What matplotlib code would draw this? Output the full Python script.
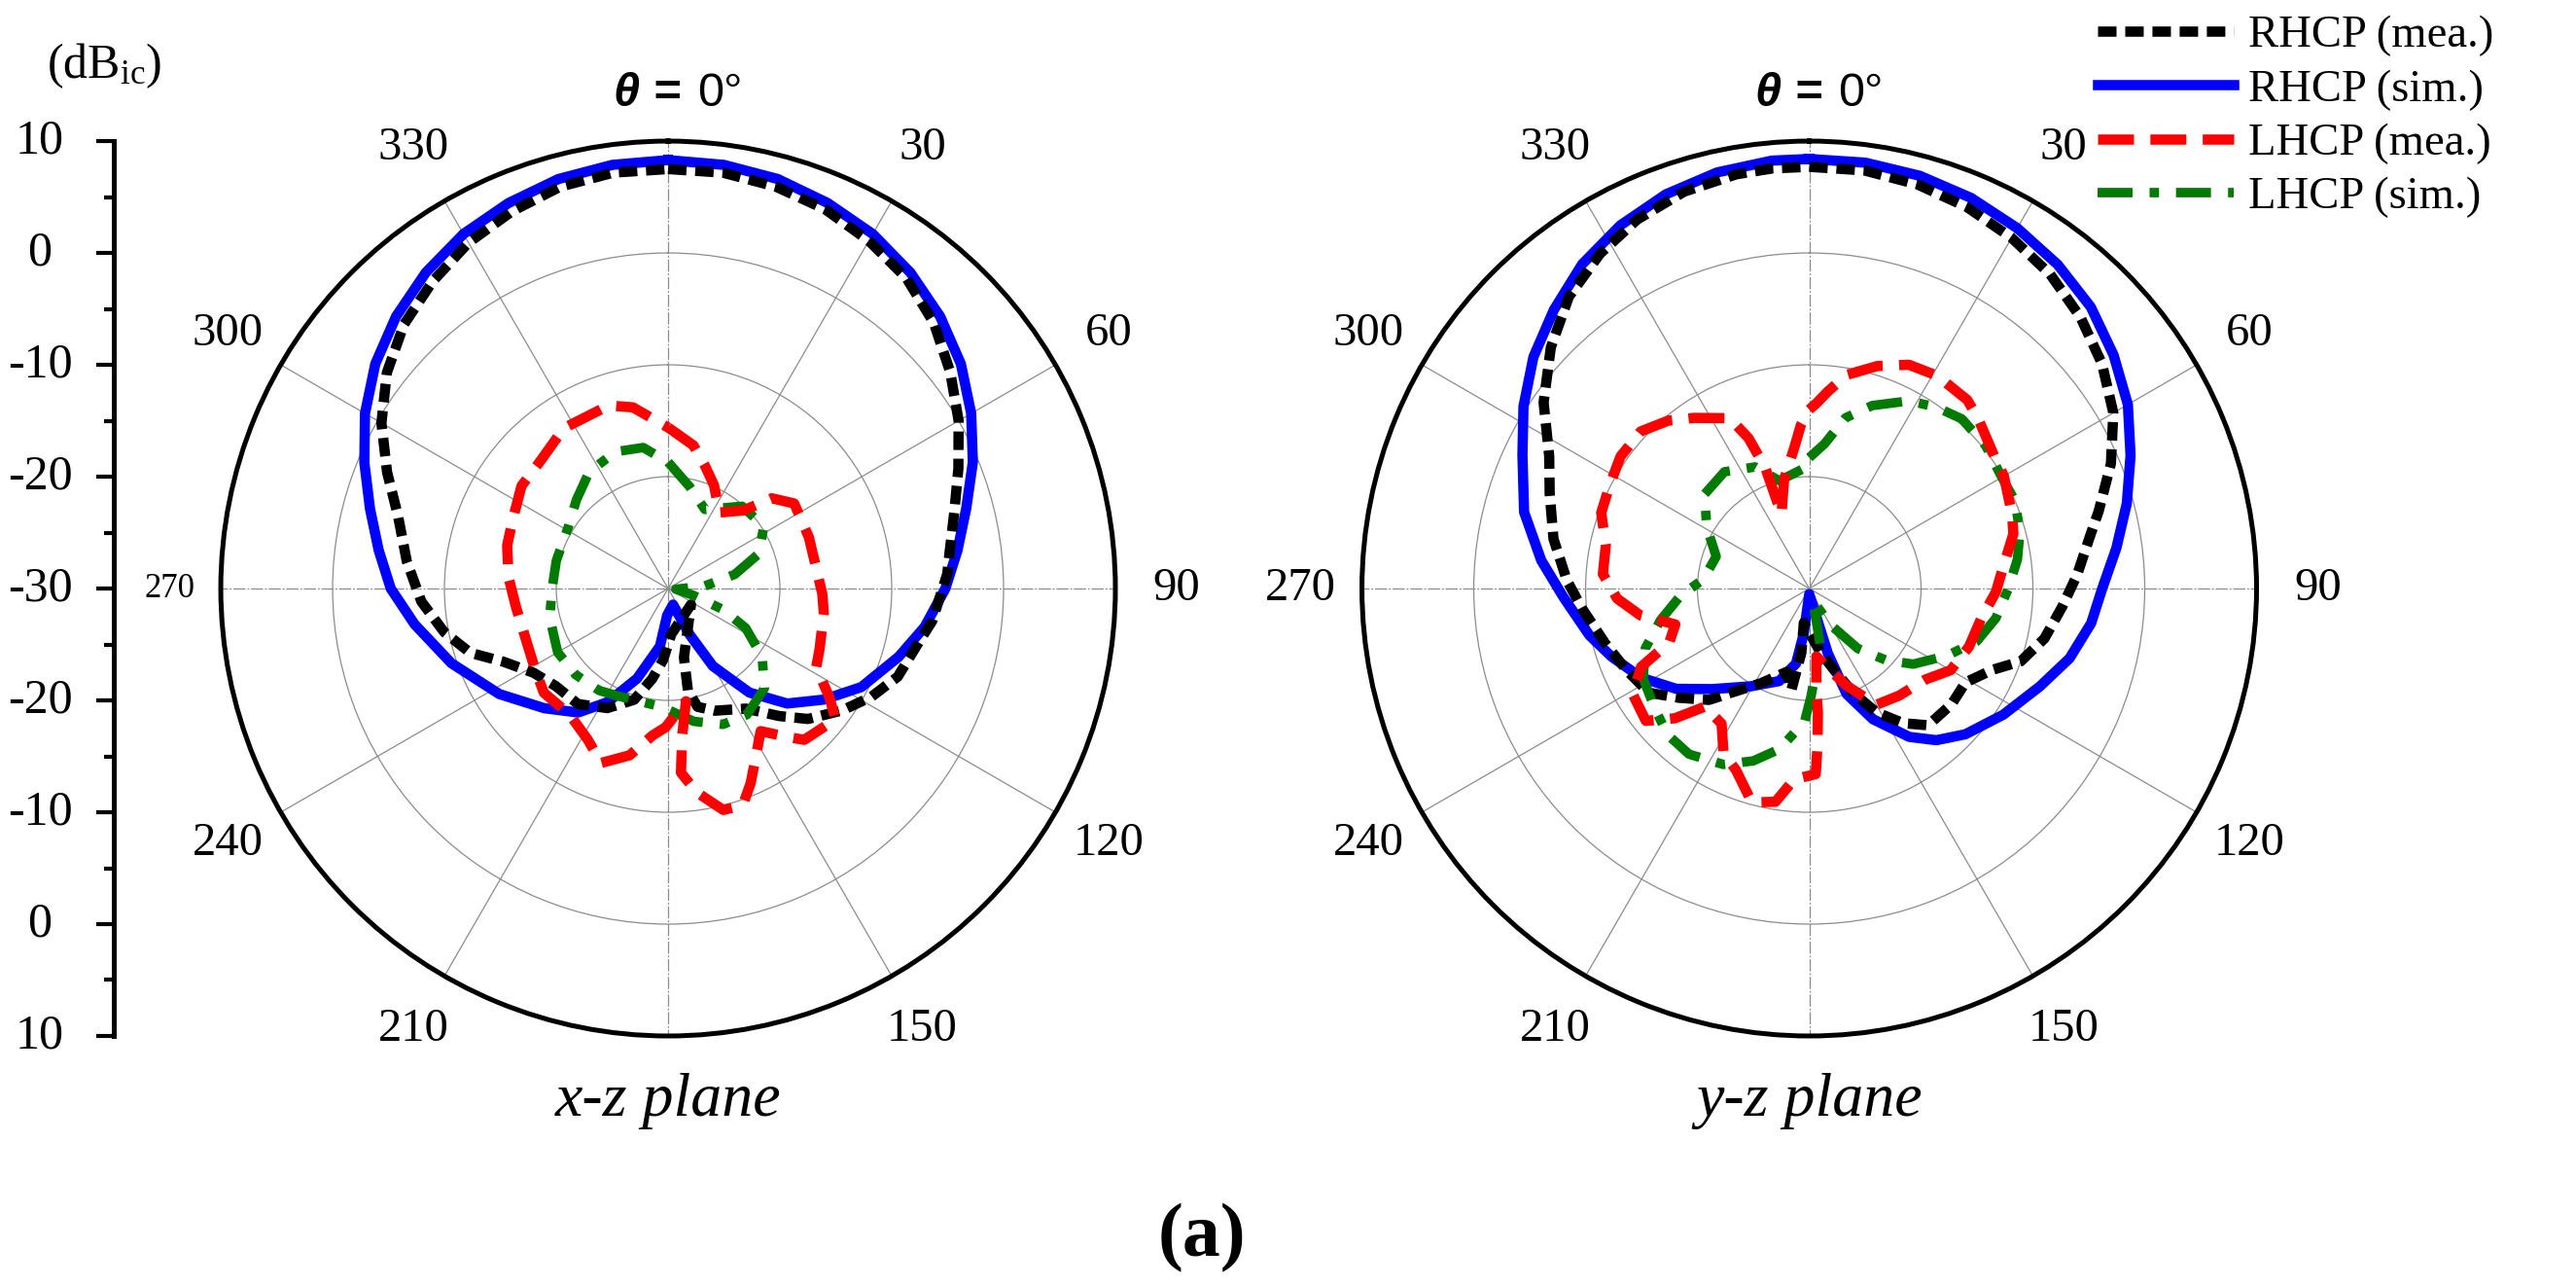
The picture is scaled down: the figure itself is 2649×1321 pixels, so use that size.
import numpy as np
import matplotlib
matplotlib.use("Agg")
import matplotlib.pyplot as plt
from matplotlib.lines import Line2D

plt.rcParams["font.family"] = ["Liberation Serif", "DejaVu Serif"]
plt.rcParams["mathtext.fontset"] = "custom"
plt.rcParams["mathtext.rm"] = "Liberation Serif"
plt.rcParams["mathtext.it"] = "Liberation Serif:italic"

# ---- data (angle in deg, gain in dBic) ----
XZ_RHCP_SIM_ANG = [0, 7.5, 15, 22.5, 30, 37.5, 45, 52.5, 60, 67.5, 75, 82.5, 90, 98.5, 106.5, 117,
                   125.5, 134, 142, 150, 155, 163, 182, 188, 199, 208, 216, 226, 238, 251, 262, 270,
                   277.5, 285, 292.5, 300, 307.5, 315, 322.5, 330, 337.5, 345, 352.5, 360]
XZ_RHCP_SIM = [8.3, 8.2, 7.9, 7.3, 6.6, 5.6, 4.4, 3.0, 1.3, -0.5, -2.4, -3.9, -5.2, -6.8, -8.5,
               -10.6, -12.9, -15.2, -18.2, -22.0, -25.5, -28.5, -27.6, -24.8, -21.5, -18.5, -16.3,
               -14.6, -12.2, -9.5, -7.1, -5.2, -3.9, -2.4, -0.6, 1.3, 3.0, 4.4, 5.6, 6.6, 7.3, 7.9,
               8.2, 8.3]

XZ_RHCP_MEA_ANG = [0, 7.5, 15, 22.5, 30, 37.5, 45, 52.5, 60, 67.5, 75, 82.5, 87, 97, 103, 111, 118,
                   125, 133, 139, 147, 159, 166, 169, 167, 125, 176, 184, 190, 197, 207, 218, 229,
                   238, 246, 252, 259, 267, 276, 285, 292.5, 300, 307.5, 315, 322.5, 330, 337.5,
                   345, 352.5, 360]
XZ_RHCP_MEA = [7.5, 7.5, 7.2, 6.7, 5.9, 5.0, 3.6, 1.8, 0.0, -1.9, -3.5, -4.6, -5.0, -6.2, -7.2,
               -8.0, -9.4, -11.0, -12.9, -14.9, -17.2, -18.3, -19.1, -20.7, -23.7, -27.5, -25.9,
               -23.6, -21.8, -19.6, -18.0, -16.9, -16.7, -15.8, -13.9, -11.4, -9.6, -7.9, -6.5,
               -5.0, -2.8, -0.4, 1.7, 3.4, 4.6, 5.7, 6.5, 7.2, 7.5, 7.5]

XZ_LHCP_MEA_ANG = [0, 10, 17, 24, 34, 44, 49, 56, 70, 92, 99, 112, 118, 124, 128, 138, 141, 147, 152,
                   157, 161, 166, 172, 176, 174.5, 171, 181, 186, 193, 201, 208, 218, 230, 239, 251,
                   263, 274, 285, 294, 305, 314, 327, 342, 349, 360]
XZ_LHCP_MEA = [-15.6, -17.0, -18.6, -19.9, -21.8, -20.3, -17.7, -16.4, -16.6, -16.2, -15.9, -15.4,
               -15.0, -12.6, -11.0, -11.8, -12.9, -14.8, -13.2, -11.1, -9.5, -9.6, -11.6, -13.5,
               -16.8, -19.8, -17.6, -16.8, -14.7, -13.3, -14.7, -15.7, -15.5, -16.1, -16.5, -16.3,
               -15.7, -15.1, -14.8, -14.0, -13.9, -12.9, -12.8, -13.5, -15.6]

XZ_LHCP_SIM_ANG = [0, 12, 25, 42, 57, 69, 78, 86, 95, 105, 111, 117, 126, 136, 148, 158, 169, 183,
                   205, 214, 227, 240, 256, 269, 284, 302, 314, 326, 339, 350, 360]
XZ_LHCP_SIM = [-18.7, -20.7, -22.2, -20.1, -19.8, -21.3, -23.9, -26.7, -29.3, -27.7, -24.7, -22.2,
               -19.6, -17.6, -16.7, -16.9, -17.9, -19.4, -19.4, -19.0, -18.7, -18.6, -19.1, -19.6,
               -19.7, -19.5, -18.6, -17.4, -16.9, -17.2, -18.7]

YZ_RHCP_SIM_ANG = [0, 7.5, 15, 22.5, 30, 37.5, 45, 52.5, 60, 67.5, 75, 82.5, 90, 97, 105, 113, 123,
                   133, 140, 146, 154, 160.5, 164, 166, 180, 187, 190, 198, 211, 224, 233, 242, 251,
                   258, 268, 276, 285, 295, 302.5, 310, 317.5, 325, 332.5, 340, 347.5, 355, 360]
YZ_RHCP_SIM = [8.4, 8.4, 8.2, 7.8, 7.2, 6.5, 5.6, 4.3, 2.9, 1.1, -0.6, -2.3, -3.8, -4.6, -5.9, -7.6,
               -9.3, -10.9, -12.3, -14.0, -17.0, -20.0, -24.0, -27.5, -29.5, -25.9, -23.2, -21.3,
               -19.8, -17.5, -15.1, -13.0, -11.3, -9.9, -8.0, -5.9, -3.6, -1.7, 0.3, 2.2, 3.8, 5.4,
               6.6, 7.5, 8.1, 8.4, 8.4]

YZ_RHCP_MEA_ANG = [0, 7.5, 15, 22.5, 30, 37.5, 45, 52.5, 60, 67.5, 75, 80, 87, 94, 102, 109, 114,
                   121, 129, 139, 145, 151.5, 157, 162.5, 170, 189, 187, 190, 195, 207, 216, 222,
                   230, 237, 246, 255, 265, 272, 281, 290, 297, 305, 313, 320.5, 328, 335, 342.5,
                   350, 355, 360]
YZ_RHCP_MEA = [7.7, 7.7, 7.4, 6.9, 6.2, 5.4, 4.3, 3.0, 1.4, -0.8, -3.2, -4.6, -6.0, -7.3, -8.5,
               -10.0, -12.1, -13.7, -13.6, -13.8, -15.3, -17.4, -19.8, -22.2, -24.2, -26.9, -24.2,
               -20.8, -22.3, -20.5, -18.6, -16.6, -14.8, -12.9, -12.1, -11.1, -9.6, -8.3, -6.7,
               -5.3, -3.9, -1.0, 1.6, 3.8, 5.3, 6.4, 7.2, 7.6, 7.7, 7.7]

YZ_LHCP_MEA_ANG = [0, 2.3, 5.4, 10, 17, 24, 31, 40, 45, 55, 60, 70, 75, 84, 91, 100, 110, 120, 128,
                   140, 150, 159, 169, 174, 176, 176, 177, 178, 184.5, 189, 195, 202, 207.5, 213,
                   221.5, 226, 231, 239, 245, 249, 255, 261, 267, 274, 282, 290, 297.5, 305, 313, 320,
                   326, 335, 338, 340, 339.5, 347, 354, 357, 360]
YZ_LHCP_MEA = [-14.0, -13.4, -12.3, -10.6, -9.2, -8.1, -7.8, -8.0, -8.6, -9.7, -9.9, -10.7, -11.1,
               -12.6, -13.3, -14.4, -14.8, -15.4, -16.8, -17.5, -18.0, -20.7, -23.1, -23.9, -20.9,
               -18.9, -15.9, -13.4, -12.9, -10.7, -10.2, -12.5, -13.4, -15.6, -15.9, -13.3, -11.2,
               -11.6, -13.4, -16.6, -17.6, -14.7, -12.8, -11.5, -11.4, -10.2, -9.9, -9.4, -9.4,
               -10.4, -11.6, -13.2, -15.5, -18.5, -22.9, -20.0, -17.3, -15.4, -14.0]

YZ_LHCP_SIM_ANG = [0, 6, 12, 19, 28, 35, 42, 51, 59, 67, 75, 82, 90, 99, 107.5, 116, 126, 133, 141,
                   150, 163, 169, 179, 182, 190.5, 198, 206, 216, 224, 232, 241.5, 250, 258, 267, 275,
                   289, 301, 312, 324, 336, 344.5, 358, 360]
YZ_LHCP_SIM = [-18.3, -17.0, -14.4, -12.7, -11.0, -10.2, -9.6, -9.7, -10.1, -10.0, -10.5, -11.2,
               -12.2, -13.1, -14.3, -16.3, -18.5, -20.6, -23.1, -26.3, -28.9, -24.8, -20.4, -18.1,
               -15.4, -13.8, -12.5, -11.7, -11.8, -12.5, -13.1, -14.4, -16.4, -18.5, -20.5, -21.2,
               -19.3, -17.4, -17.1, -18.1, -20.0, -19.2, -18.3]

LABELS = ["RHCP (mea.)", "RHCP (sim.)", "LHCP (mea.)", "LHCP (sim.)"]
ANGLE_TICKS = [30, 60, 90, 120, 150, 210, 240, 270, 300, 330]
SCALE_POS = [40, 30, 20, 10, 0, -10, -20, -30, -40]
SCALE_TICKS = ["10", "0", "-10", "-20", "-30", "-20", "-10", "0", "10"]
R_MIN, R_MAX = -30, 10

STYLES = {
    "RHCP (mea.)": dict(color="black", lw=3.8, dashes=(1.8, 0.85), zorder=4),
    "RHCP (sim.)": dict(color="#0000ff", lw=3.8, linestyle="-", zorder=3),
    "LHCP (mea.)": dict(color="#ff0000", lw=3.8, dashes=(3.5, 1.6), zorder=6),
    "LHCP (sim.)": dict(color="#007a00", lw=3.5, dashes=(3.7, 1.8, 1.0, 1.8), zorder=5),
}

W, H = 2649, 1321
POLAR_BOTTOM = 0.1938
POLAR_SIZE = (0.3473, 0.6964)


def draw_panel(fig, left, series, plane, small_270=False):
    ax = fig.add_axes([left, POLAR_BOTTOM, *POLAR_SIZE], projection="polar")
    ax.set_theta_zero_location("N")
    ax.set_theta_direction(-1)
    ax.set_ylim(R_MIN, R_MAX)
    ax.set_xticks(np.deg2rad(np.arange(0, 360, 30)))
    ax.set_xticklabels([])
    ax.set_yticks([-20, -10, 0])
    ax.set_yticklabels([])
    ax.tick_params(axis="both", length=0)
    ax.grid(True, color="#8c8c8c", lw=0.45)
    for i, gl in enumerate(ax.xaxis.get_gridlines()):
        if i % 3 == 0:
            gl.set_dashes((10, 1.5, 1.5, 1.5))
    ax.spines["polar"].set_linewidth(1.8)

    for label, (ang, val) in zip(LABELS, series):
        ax.plot(np.deg2rad(ang), val, label=label, **STYLES[label])

    for t in ANGLE_TICKS:
        if t == 270 and small_270:
            ax.text(np.deg2rad(t), 14.6, str(t), ha="center", va="center", fontsize=12.5)
        else:
            ax.text(np.deg2rad(t), 15.5, str(t), ha="center", va="center", fontsize=17.5)

    ax.annotate("θ =", xy=(0, 14.2), xytext=(4.7, 0), textcoords="offset points",
                ha="right", va="center", fontsize=17.5, family="Liberation Sans",
                fontweight="bold", fontstyle="italic", annotation_clip=False)
    ax.annotate("0°", xy=(0, 14.2), xytext=(10.8, 0), textcoords="offset points",
                ha="left", va="center", fontsize=17.5, family="Liberation Sans",
                annotation_clip=False)

    cx = left + POLAR_SIZE[0] / 2
    fig.text(cx, 1 - 1147 / H, plane, ha="center", va="baseline", fontsize=23, style="italic")
    return ax


fig = plt.figure(figsize=(W / 200, H / 200), dpi=200)

draw_panel(
    fig, 0.0857,
    [(XZ_RHCP_MEA_ANG, XZ_RHCP_MEA), (XZ_RHCP_SIM_ANG, XZ_RHCP_SIM),
     (XZ_LHCP_MEA_ANG, XZ_LHCP_MEA), (XZ_LHCP_SIM_ANG, XZ_LHCP_SIM)],
    "x-z plane", small_270=True)
draw_panel(
    fig, 0.5287,
    [(YZ_RHCP_MEA_ANG, YZ_RHCP_MEA), (YZ_RHCP_SIM_ANG, YZ_RHCP_SIM),
     (YZ_LHCP_MEA_ANG, YZ_LHCP_MEA), (YZ_LHCP_SIM_ANG, YZ_LHCP_SIM)],
    "y-z plane")

# linear dB scale on the far left, spanning the polar diameter
sax = fig.add_axes([117 / W, POLAR_BOTTOM, 0.01, POLAR_SIZE[1]])
sax.set_ylim(-40, 40)
for s in ["top", "right", "bottom"]:
    sax.spines[s].set_visible(False)
sax.spines["left"].set_linewidth(1.8)
sax.set_xticks([])
sax.patch.set_visible(False)
sax.set_yticks(SCALE_POS)
sax.set_yticks(np.arange(-35, 40, 10), minor=True)
sax.tick_params(axis="y", which="major", length=6.5, width=1.5, labelleft=False)
sax.tick_params(axis="y", which="minor", length=3.6, width=1.5)
label_x = (41 - 117) / (0.01 * W)
for pos, txt in zip(SCALE_POS, SCALE_TICKS):
    sax.text(label_x, pos, txt, transform=sax.get_yaxis_transform(),
             ha="center", va="center", fontsize=18)
fig.text(107 / W, 1 - 68 / H, r"(dB$_{\mathrm{ic}}$)", ha="center", va="center", fontsize=18)

handles = [Line2D([], [], **{k: v for k, v in STYLES[l].items() if k != "zorder"}) for l in LABELS]
fig.legend(handles, LABELS, loc="upper left", bbox_to_anchor=(2157 / W, 0.988),
           frameon=False, fontsize=16.8, handlelength=3.0, handletextpad=0.32,
           labelspacing=0.27, borderpad=0, borderaxespad=0)

fig.text(1236 / W, 1 - 1273 / H, "(a)", ha="center", va="center", fontsize=28, fontweight="bold")

fig.savefig("out.png", dpi=200)
